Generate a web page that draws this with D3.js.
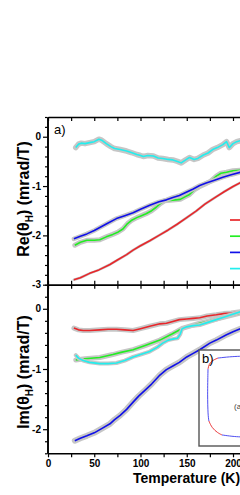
<!DOCTYPE html>
<html>
<head>
<meta charset="utf-8">
<script src="https://cdn.jsdelivr.net/npm/d3@7/dist/d3.min.js"></script>
<style>
  html, body { margin: 0; padding: 0; background: #fff; }
  svg { display: block; }
  .tick text { font-family: "Liberation Sans", Arial, sans-serif; font-weight: bold; font-size: 10px; fill: #000; }
</style>
</head>
<body>
<div id="chart"></div>
<script>
// temperature axis
var xTicks = [0, 25, 50, 75, 100, 125, 150, 175, 200, 225, 250, 275, 300];
var xLabels = [0, 50, 100, 150, 200, 250, 300];
var reTicks = [-3, -2, -1, 0];
var imTicks = [-2, -1, 0];

// a) Re(theta_H), [T, value]
var reRed = [[28,-2.90],[35,-2.86],[45,-2.77],[55,-2.70],[67,-2.59],[75,-2.50],[85,-2.39],[92,-2.30],[100,-2.21],[110,-2.11],[120,-2.00],[130,-1.89],[140,-1.77],[150,-1.64],[160,-1.51],[170,-1.36],[180,-1.24],[190,-1.12],[200,-1.01],[208,-0.93]];
var reGreen = [[29,-2.20],[35,-2.14],[42,-2.10],[50,-2.10],[56,-2.09],[63,-2.03],[70,-1.98],[76,-1.93],[81,-1.87],[86,-1.76],[90,-1.70],[96,-1.64],[101,-1.60],[106,-1.56],[112,-1.50],[117,-1.43],[121,-1.36],[126,-1.30],[132,-1.29],[138,-1.28],[143,-1.27],[148,-1.22],[153,-1.17],[158,-1.08],[163,-1.02],[170,-0.96],[176,-0.90],[182,-0.80],[187,-0.74],[193,-0.72],[200,-0.69],[208,-0.68]];
var reBlue = [[28,-2.07],[35,-2.02],[42,-1.97],[50,-1.90],[56,-1.84],[65,-1.75],[74,-1.66],[83,-1.60],[92,-1.54],[100,-1.47],[110,-1.39],[120,-1.32],[128,-1.28],[135,-1.23],[142,-1.19],[150,-1.12],[157,-1.06],[164,-0.99],[171,-0.94],[180,-0.88],[189,-0.82],[198,-0.77],[208,-0.72]];
var reCyan = [[30,-0.22],[33,-0.15],[36,-0.13],[40,-0.14],[45,-0.12],[50,-0.10],[55,-0.05],[58,-0.07],[63,-0.14],[68,-0.20],[72,-0.24],[78,-0.26],[85,-0.29],[90,-0.32],[96,-0.36],[100,-0.38],[103,-0.40],[108,-0.38],[114,-0.39],[119,-0.43],[124,-0.44],[130,-0.46],[135,-0.47],[140,-0.50],[144,-0.53],[148,-0.48],[153,-0.42],[158,-0.46],[162,-0.44],[168,-0.37],[173,-0.33],[178,-0.26],[183,-0.22],[189,-0.16],[193,-0.10],[196,-0.22],[200,-0.14],[204,-0.10],[208,-0.08]];

// Im(theta_H)
var imRed = [[28,-0.32],[33,-0.35],[38,-0.36],[45,-0.36],[56,-0.35],[65,-0.34],[74,-0.34],[83,-0.35],[92,-0.36],[100,-0.33],[110,-0.29],[121,-0.25],[128,-0.24],[135,-0.21],[142,-0.18],[150,-0.17],[157,-0.16],[164,-0.15],[172,-0.12],[182,-0.10],[190,-0.08],[198,-0.07],[208,-0.05]];
var imGreen = [[30,-0.85],[40,-0.83],[56,-0.81],[70,-0.76],[80,-0.72],[92,-0.68],[105,-0.61],[121,-0.52],[134,-0.42],[146,-0.32],[155,-0.28],[164,-0.24],[172,-0.21],[182,-0.17],[195,-0.12],[208,-0.07]];
var imBlue = [[29,-2.19],[35,-2.15],[42,-2.11],[50,-2.06],[58,-1.99],[67,-1.91],[72,-1.84],[78,-1.77],[85,-1.67],[92,-1.55],[98,-1.45],[105,-1.35],[112,-1.25],[121,-1.10],[128,-1.01],[135,-0.95],[142,-0.89],[150,-0.80],[157,-0.74],[164,-0.68],[175,-0.57],[182,-0.52],[193,-0.43],[200,-0.38],[208,-0.33]];
var imCyan = [[30,-0.77],[33,-0.82],[38,-0.86],[45,-0.89],[56,-0.91],[65,-0.91],[74,-0.90],[83,-0.86],[92,-0.80],[100,-0.76],[110,-0.71],[118,-0.64],[124,-0.57],[130,-0.52],[136,-0.50],[140,-0.49],[143,-0.42],[145,-0.33],[150,-0.30],[157,-0.28],[164,-0.27],[172,-0.23],[182,-0.18],[190,-0.14],[198,-0.10],[208,-0.05]];

// b) inset trace, arbitrary units
var insetRed1 = [[1.0,8.0],[1.1,8.5],[1.44,8.9],[2.1,9.16]];
var insetBlue1 = [[2.1,9.16],[3.4,9.3],[4.6,9.35],[5.2,9.36]];
var insetBlue2 = [[1.0,8.0],[0.94,5.3],[1.0,3.2],[1.1,2.6]];
var insetRed2 = [[1.1,2.6],[1.44,1.88],[2.1,1.35],[2.56,1.15]];
var insetBlue3 = [[2.56,1.15],[3.67,1.0],[4.7,0.94],[5.2,0.93]];

var series = ["red", "green", "blue", "cyan"];

var width = 240, height = 495;
var colors = { red: "#e8262a", green: "#22ee22", blue: "#1010e8", cyan: "#22eeee" };

var svg = d3.select("#chart").append("svg")
    .attr("width", width)
    .attr("height", height);

var x = d3.scaleLinear().domain([0, 300]).range([48, 325.5]);
var yRe = d3.scaleLinear().domain([-3, 0.4]).range([284.7, 117]);
var yIm = d3.scaleLinear().domain([-2.4, 0.4]).range([453.3, 284.7]);

function drawSeries(data, y, color, band) {
  var line = d3.line()
      .x(function(d){ return x(d[0]); })
      .y(function(d){ return y(d[1]); });
  // grey error band
  svg.append("path")
      .datum(data)
      .attr("d", line)
      .attr("fill", "none")
      .attr("stroke", "#c6c6c6")
      .attr("stroke-width", band)
      .attr("stroke-linejoin", "round")
      .attr("stroke-linecap", "round");
  svg.append("path")
      .datum(data)
      .attr("d", line)
      .attr("fill", "none")
      .attr("stroke", color)
      .attr("stroke-width", 1.6)
      .attr("stroke-linejoin", "round");
}

drawSeries(reCyan, yRe, colors.cyan, 5.5);
drawSeries(reGreen, yRe, colors.green, 5);
drawSeries(reBlue, yRe, colors.blue, 4.5);
drawSeries(reRed, yRe, colors.red, 2.6);

drawSeries(imRed, yIm, colors.red, 5);
drawSeries(imGreen, yIm, colors.green, 5);
drawSeries(imCyan, yIm, colors.cyan, 4);
drawSeries(imBlue, yIm, colors.blue, 6);

// legend swatches (labels are off to the right)
svg.selectAll(".legend")
    .data(series)
  .enter().append("line")
    .attr("class", "legend")
    .attr("x1", 230).attr("x2", 250)
    .attr("y1", function(d, i){ return 220 + i * 16.2; })
    .attr("y2", function(d, i){ return 220 + i * 16.2; })
    .attr("stroke", function(d){ return colors[d]; })
    .attr("stroke-width", 1.7);

// axes
function xFmt(d) { return xLabels.indexOf(d) >= 0 ? d : ""; }

function styleAxis(g) {
  g.selectAll(".domain").attr("stroke", "#000").attr("stroke-width", 1.6);
  g.selectAll(".tick line").attr("stroke", "#000").attr("stroke-width", 1.2);
}

svg.append("g")
    .attr("transform", "translate(0," + yRe.range()[1] + ")")
    .call(d3.axisTop(x).tickValues(xTicks).tickSize(-4).tickSizeOuter(0).tickFormat(""))
    .call(styleAxis);

svg.append("g")
    .attr("transform", "translate(0," + yRe.range()[0] + ")")
    .call(d3.axisTop(x).tickValues(xTicks).tickSize(4).tickSizeOuter(0).tickFormat(""))
    .call(styleAxis);
svg.append("g")
    .attr("transform", "translate(0," + yRe.range()[0] + ")")
    .call(d3.axisBottom(x).tickValues(xTicks).tickSize(4).tickSizeOuter(0).tickFormat(""))
    .call(styleAxis);

svg.append("g")
    .attr("transform", "translate(0," + yIm.range()[0] + ")")
    .call(d3.axisBottom(x).tickValues(xTicks).tickSize(4).tickSizeOuter(0).tickFormat(xFmt).tickPadding(3))
    .call(styleAxis);

function minors(lo, hi) {
  return d3.range(Math.round(lo * 5), Math.round(hi * 5) + 1).map(function(k){ return k / 5; })
      .filter(function(v){ return Math.abs(v - Math.round(v)) > 1e-6; });
}

var x0 = x(0) - 0.5;
[[yRe, reTicks], [yIm, imTicks]].forEach(function(p) {
  var y = p[0], d = y.domain();
  svg.append("g")
      .attr("transform", "translate(" + x0 + ",0)")
      .call(d3.axisLeft(y).tickValues(minors(d[0], d[1])).tickSize(2.5).tickSizeOuter(0).tickFormat(""))
      .call(styleAxis);
  svg.append("g")
      .attr("transform", "translate(" + x0 + ",0)")
      .call(d3.axisLeft(y).tickValues(p[1]).tickSize(4.5).tickSizeOuter(0).tickPadding(2)
        .tickFormat(function(v){ return v === 0 ? "0" : String(v); }))
      .call(styleAxis);
});

// titles
var font = "'Liberation Sans', Arial, sans-serif";

svg.append("text")
    .attr("x", 133).attr("y", 483)
    .style("font-family", font).style("font-weight", "bold").style("font-size", "14px")
    .text("Temperature (K)");

function yTitle(cy, name) {
  var t = svg.append("text")
      .attr("transform", "translate(29," + cy + ") rotate(-90)")
      .attr("text-anchor", "middle")
      .style("font-family", font).style("font-weight", "bold").style("font-size", "16px");
  t.append("tspan").text(name + "(θ");
  t.append("tspan").attr("dy", 4).style("font-size", "10px").text("H");
  t.append("tspan").attr("dy", -4).text(") (mrad/T)");
}
yTitle(199, "Re");
yTitle(372, "Im");

svg.append("text")
    .attr("x", 54).attr("y", 134)
    .style("font-family", font).style("font-size", "13px")
    .text("a)");

// inset b)
var ix = d3.scaleLinear().domain([0, 10]).range([199, 289]);
var iy = d3.scaleLinear().domain([0, 10]).range([446, 350]);

svg.append("rect")
    .attr("x", ix(0)).attr("y", iy(10))
    .attr("width", ix(10) - ix(0)).attr("height", iy(0) - iy(10))
    .attr("fill", "#fff")
    .attr("stroke", "#555")
    .attr("stroke-width", 1.4);

var iline = d3.line()
    .curve(d3.curveBasis)
    .x(function(d){ return ix(d[0]); })
    .y(function(d){ return iy(d[1]); });

[[insetRed1, "#e8262a"], [insetBlue1, "#3a3aee"], [insetBlue2, "#3a3aee"], [insetRed2, "#e8262a"], [insetBlue3, "#3a3aee"]]
  .forEach(function(s) {
    svg.append("path")
        .datum(s[0])
        .attr("d", iline)
        .attr("fill", "none")
        .attr("stroke", s[1])
        .attr("stroke-width", 0.9);
  });

svg.append("text")
    .attr("x", 202).attr("y", 363)
    .style("font-family", font).style("font-size", "13px")
    .text("b)");

svg.append("text")
    .attr("x", 234).attr("y", 409)
    .style("font-family", font).style("font-size", "8px").style("fill", "#444")
    .text("(a)");
</script>
</body>
</html>
